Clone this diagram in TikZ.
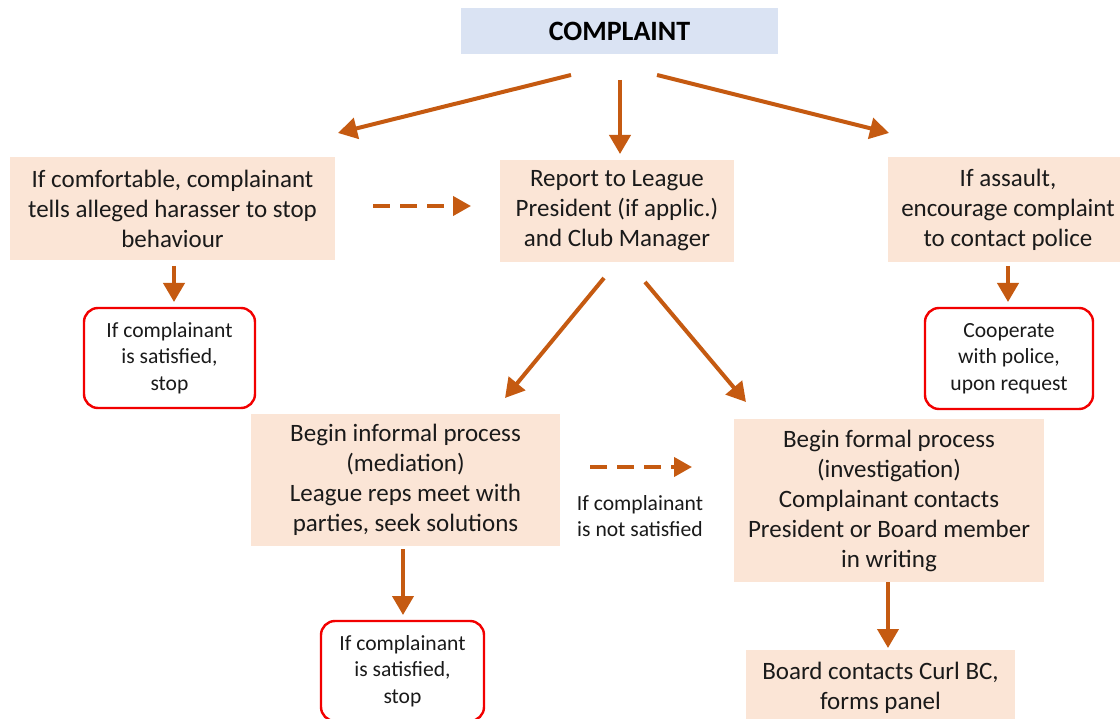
\documentclass[tikz,border=0pt]{standalone}
\usepackage{fontspec}
\setmainfont{Carlito}
\usetikzlibrary{arrows.meta}
\definecolor{peach}{HTML}{FBE5D6}
\definecolor{paleblue}{HTML}{DAE3F3}
\definecolor{rust}{HTML}{C55A11}
\definecolor{stopred}{HTML}{F20000}
\definecolor{ink}{HTML}{1A1A1A}
\tikzset{
  stepbox/.style={fill=peach, inner sep=0pt, align=center, text=ink,
    font=\fontsize{25}{30}\selectfont},
  stopbox/.style={draw=stopred, line width=2.4pt, fill=white, rounded corners=14pt,
    inner sep=0pt, align=center, text=ink, font=\fontsize{21.6}{26.3}\selectfont},
  flow/.style={draw=rust, line width=4pt, -{Triangle[width=21pt,length=19pt]}},
  dashflow/.style={draw=rust, line width=4pt, dash pattern=on 17pt off 10pt,
    -{Triangle[width=19pt,length=18pt]}},
  note/.style={inner sep=0pt, align=center, text=ink, font=\fontsize{21.6}{26}\selectfont}
}
\begin{document}
\begin{tikzpicture}[x=1pt, y=-1pt]
  \clip (0,0) rectangle (1120,719);
  \fill[white] (0,0) rectangle (1120,719);

  % top node
  \node[fill=paleblue, minimum width=317pt, minimum height=46pt, inner sep=0pt,
        font=\fontsize{28}{30}\selectfont\bfseries, text=black] (complaint) at (619.5,31) {COMPLAINT};

  % first row
  \node[stepbox, minimum width=325pt, minimum height=103pt] (tell) at (172.5,208.5)
    {If comfortable, complainant\\tells alleged harasser to stop\\behaviour};
  \node[stepbox, minimum width=234pt, minimum height=102pt] (report) at (617,211)
    {Report to League\\President (if applic.)\\and Club Manager};
  \node[stepbox, minimum width=240pt, minimum height=105pt] (assault) at (1008,209.5)
    {If assault,\\encourage complaint\\to contact police};

  % outcomes of first row
  \node[stopbox, minimum width=171pt, minimum height=100pt] (stopA) at (169.5,358)
    {If complainant\\is satisfied,\\stop};
  \node[stopbox, minimum width=168pt, minimum height=101pt] (police) at (1009,358.5)
    {Cooperate\\with police,\\upon request};

  % processes
  \node[stepbox, minimum width=309pt, minimum height=132pt] (informal) at (405.5,480)
    {Begin informal process\\(mediation)\\League reps meet with\\parties, seek solutions};
  \node[stepbox, minimum width=310pt, minimum height=163pt] (formal) at (889,500.5)
    {Begin formal process\\(investigation)\\Complainant contacts\\President or Board member\\in writing};
  \node[note] (notsat) at (640,516) {If complainant\\is not satisfied};

  % final steps
  \node[stopbox, minimum width=163pt, minimum height=100pt] (stopB) at (402.5,671)
    {If complainant\\is satisfied,\\stop};
  \node[stepbox, minimum width=269pt, minimum height=76pt] (board) at (880.5,688)
    {Board contacts Curl BC,\\forms panel};

  % connector end points
  \coordinate (c1a) at (571,75);   \coordinate (c1b) at (338,133);
  \coordinate (c2a) at (620,80);   \coordinate (c2b) at (620,154);
  \coordinate (c3a) at (657,75);   \coordinate (c3b) at (889,133);
  \coordinate (d1a) at (373,206);  \coordinate (d1b) at (471,206);
  \coordinate (c4a) at (174,266);  \coordinate (c4b) at (174,302);
  \coordinate (c5a) at (1008,266); \coordinate (c5b) at (1008,302);
  \coordinate (c6a) at (604,278);  \coordinate (c6b) at (505,398);
  \coordinate (c7a) at (645,282);  \coordinate (c7b) at (746,402);
  \coordinate (d2a) at (590,467);  \coordinate (d2b) at (692,467);
  \coordinate (c8a) at (403,549);  \coordinate (c8b) at (403,615);
  \coordinate (c9a) at (888,582);  \coordinate (c9b) at (888,648);

  % connectors
  \draw[flow] (c1a) -- (c1b);
  \draw[flow] (c2a) -- (c2b);
  \draw[flow] (c3a) -- (c3b);
  \draw[dashflow] (d1a) -- (d1b);
  \draw[flow] (c4a) -- (c4b);
  \draw[flow] (c5a) -- (c5b);
  \draw[flow] (c6a) -- (c6b);
  \draw[flow] (c7a) -- (c7b);
  \draw[dashflow] (d2a) -- (d2b);
  \draw[flow] (c8a) -- (c8b);
  \draw[flow] (c9a) -- (c9b);
\end{tikzpicture}
\end{document}
